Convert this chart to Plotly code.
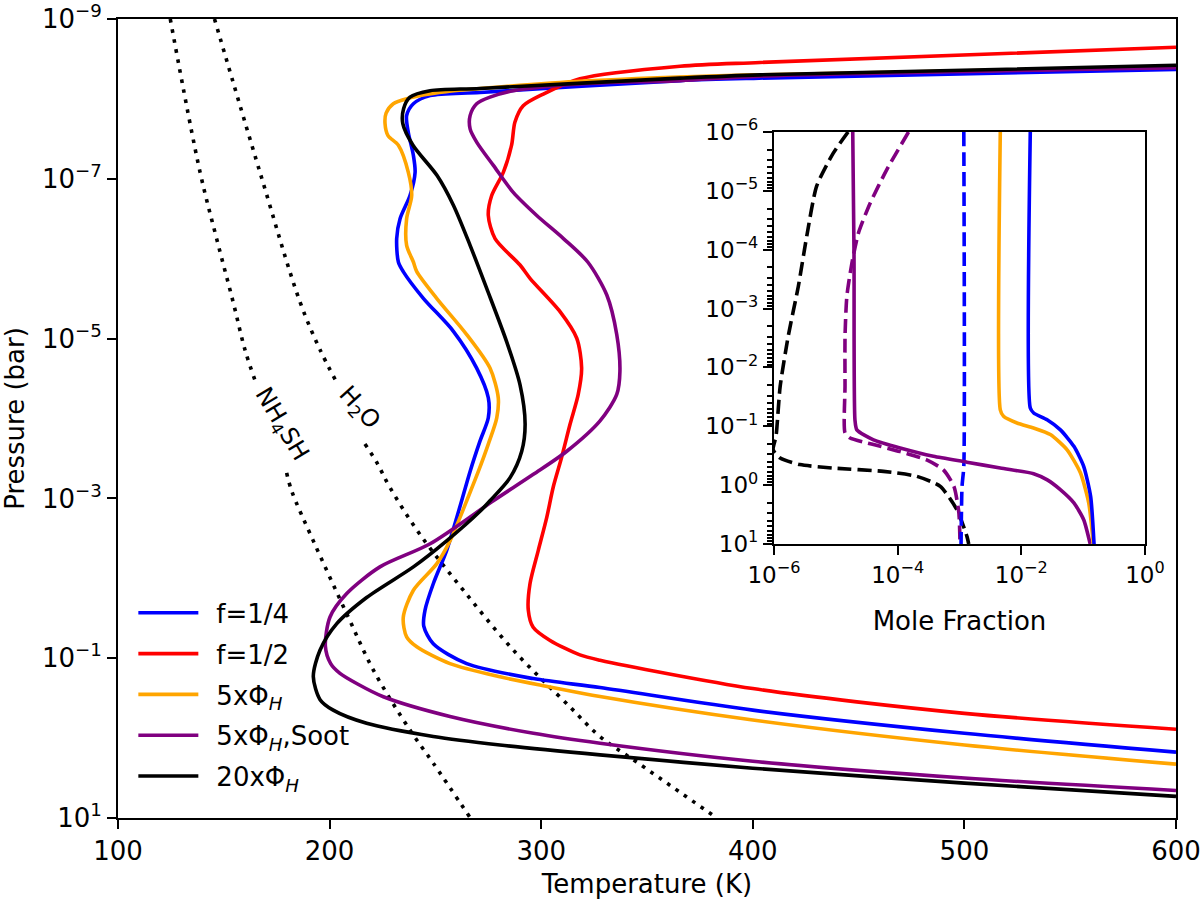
import plotly.graph_objects as go

# ---------------- main panel: temperature-pressure profiles ----------------
t_f14 = [600, 403, 365.6, 271.1, 247.5, 239.6, 236.4, 237.2, 239.6, 240.4, 238.0, 233.3, 231.7, 232.5, 234.8,
         244.3, 258.5, 269.5, 275.0, 275.0, 271.1, 266.4, 262.4, 260.1, 255.3, 249.0, 245.1, 244.5, 249.0, 264.8,
         296.2, 327.8, 400, 500, 600]
p_f14 = [4.27e-9, 5.5e-9, 5.9e-9, 8.3e-9, 9.1e-9, 1.15e-8, 1.62e-8, 2.63e-8, 5.1e-8, 8.3e-8, 1.62e-7, 3.16e-7,
         5.6e-7, 1.10e-6, 1.45e-6, 3.13e-6, 8.1e-6, 2.34e-5, 5.5e-5, 9.8e-5, 1.91e-4, 4.6e-4, 1.07e-3, 1.74e-3,
         4.5e-3, 1.17e-2, 2.5e-2, 3.98e-2, 6.6e-2, 0.117, 0.18, 0.233, 0.447, 0.871, 1.50]

t_f12 = [600, 403.4, 365.6, 318.3, 301.0, 291.5, 287.6, 286.0, 282.1, 276.6, 275.0, 278.2, 290.0, 294.7, 308.9,
         316.8, 319.1, 317.5, 313.6, 309.6, 305.7, 302.6, 298.6, 294.7, 293.9, 296.2, 304.2, 318.3, 327.8, 400,
         500, 600]
p_f12 = [2.26e-9, 3.5e-9, 3.9e-9, 5.6e-9, 8.7e-9, 1.22e-8, 1.95e-8, 3.8e-8, 8.3e-8, 1.62e-7, 2.88e-7, 5.6e-7,
         1.20e-6, 1.76e-6, 4.6e-6, 9.9e-6, 2.34e-5, 5.0e-5, 1.19e-4, 3.1e-4, 7.2e-4, 1.74e-3, 4.5e-3, 1.17e-2,
         2.5e-2, 4.1e-2, 6.0e-2, 9.1e-2, 0.106, 0.24, 0.49, 0.776]

t_5x = [600, 400, 320, 280, 255, 244.1, 238.0, 230.1, 226.7, 226.2, 227.6, 232.5, 237.2, 238.8, 236.4, 236.4,
        239.6, 241.2, 250.6, 264.8, 275.8, 279.7, 279.0, 275.0, 270.3, 264.8, 261.6, 256.9, 250.6, 239.6, 234.8,
        236.4, 241.2, 256.9, 280.5, 304.2, 327.8, 400, 500, 600]
p_5x = [3.98e-9, 5.0e-9, 6.0e-9, 7.1e-9, 8.1e-9, 8.9e-9, 9.7e-9, 1.15e-8, 1.51e-8, 2.04e-8, 2.88e-8, 3.8e-8,
        8.3e-8, 1.62e-7, 3.16e-7, 6.8e-7, 1.10e-6, 1.45e-6, 3.13e-6, 8.9e-6, 2.34e-5, 5.5e-5, 9.8e-5, 2.09e-4,
        4.6e-4, 1.07e-3, 1.74e-3, 3.4e-3, 6.6e-3, 1.41e-2, 3.1e-2, 5.4e-2, 7.2e-2, 0.117, 0.171, 0.229, 0.302,
        0.594, 1.22, 2.12]

t_5x_soot = [600, 403.4, 365.6, 318.3, 286.8, 275.8, 269.5, 266.4, 266.4, 269.5, 277.4, 286.8, 297.9, 310.5,
             322.0, 331.0, 335.7, 337.2, 335.7, 327.8, 312.1, 296.3, 277.4, 247.5, 223.8, 208.1, 200.2, 198.0,
             200.5, 204.9, 213.0, 225.4, 256.9, 296.3, 327.8, 400, 500, 600]
p_5x_soot = [4.07e-9, 5.2e-9, 5.9e-9, 6.5e-9, 7.9e-9, 9.5e-9, 1.15e-8, 1.62e-8, 2.37e-8, 3.47e-8, 6.8e-8,
             1.48e-7, 2.88e-7, 5.6e-7, 1.10e-6, 2.85e-6, 8.9e-6, 2.57e-5, 5.0e-5, 1.07e-4, 2.57e-4, 5.0e-4,
             1.07e-3, 3.7e-3, 7.2e-3, 1.55e-2, 3.05e-2, 7.08e-2, 0.117, 0.155, 0.209, 0.304, 0.537, 0.871, 1.16,
             1.95, 3.16, 4.52]

t_20x = [600, 403.4, 365.6, 271.0, 247.5, 238.0, 235.0, 234.6, 239.4, 250.8, 258.5, 266.4, 274.2, 283.7, 290.0,
         292.4, 290.8, 285.3, 275.8, 271.1, 255.3, 239.6, 217.5, 203.4, 195.5, 192.3, 195.5, 201.7, 217.5, 249.0,
         280.5, 327.8, 400, 500, 600]
p_20x = [3.8e-9, 5.0e-9, 5.5e-9, 7.4e-9, 7.9e-9, 9.5e-9, 1.32e-8, 2.04e-8, 3.8e-8, 9.1e-8, 2.14e-7, 6.8e-7,
         2.34e-6, 1.10e-5, 3.8e-5, 1.17e-4, 2.57e-4, 5.5e-4, 1.07e-3, 1.45e-3, 3.4e-3, 7.2e-3, 1.74e-2, 3.7e-2,
         7.9e-2, 0.17, 0.33, 0.447, 0.653, 0.955, 1.22, 1.62, 2.38, 3.66, 5.37]

# condensation curves (gap where the inline label sits)
t_nh4sh = [124.7, 138.8, 146.6, 154.4, 160.0, 164.6, None, 179.7, 182.1, 192.3, 208.1, 220.7, 238.0, 249.0, 266.5]
p_nh4sh = [1e-9, 8.3e-8, 5.6e-7, 3.47e-6, 1.38e-5, 3.24e-5, None, 4.8e-4, 8.1e-4, 3.4e-3, 2.78e-2, 0.141, 0.794,
           2.06, 10]
t_h2o = [145.6, 167.1, 186.0, 195.5, 202.6, None, 216.7, 222.3, 228.5, 242.7, 263.2, 286.8, 313.6, 327.8, 345.9, 383.0]
p_h2o = [1e-9, 8.3e-8, 3.47e-6, 1.38e-5, 3.24e-5, None, 2.09e-4, 3.55e-4, 7.3e-4, 2.82e-3, 1.41e-2, 7.9e-2, 0.407,
         0.955, 2.06, 10]

# ---------------- inset: mole fractions ----------------
x_in_blue = [0.01396, 0.01396, 0.01585, 0.0261, 0.0429, 0.0708, 0.102, 0.132, 0.15]
p_in_blue = [1e-6, 0.049, 0.0594, 0.0776, 0.115, 0.219, 0.479, 1.55, 10]
x_in_orange = [0.00457, 0.00457, 0.00516, 0.00851, 0.0158, 0.0295, 0.055, 0.0902, 0.123, 0.146]
p_in_orange = [1e-6, 0.0525, 0.0676, 0.0879, 0.107, 0.138, 0.251, 0.617, 2.0, 10]
x_in_purple = [1.88e-5, 1.97e-5, 2.04e-5, 2.19e-5, 4.07e-5, 1.10e-4, 3.8e-4, 1.32e-3, 4.57e-3, 0.0158, 0.0263,
               0.0427, 0.0708, 0.102, 0.13]
p_in_purple = [1e-6, 1.15e-4, 0.0776, 0.115, 0.17, 0.234, 0.324, 0.407, 0.513, 0.638, 0.813, 1.19, 2.0, 3.86, 10]
x_in_purple_d = [1.50e-4, 6.68e-5, 3.59e-5, 2.32e-5, 1.82e-5, 1.51e-5, 1.41e-5, 1.41e-5, 1.41e-5, 1.70e-5,
                 4.07e-5, 1.10e-4, 2.95e-4, 5.5e-4, 8.13e-4, 9.77e-4, 1.02e-3]
p_in_purple_d = [1e-6, 4.37e-6, 1.62e-5, 5.25e-5, 1.70e-4, 6.17e-4, 2.95e-3, 0.0209, 0.130, 0.158, 0.204, 0.269,
                 0.372, 0.55, 1.05, 2.95, 10]
x_in_blue_d = [1.175e-3, 1.175e-3, 1.10e-3, 1.06e-3]
p_in_blue_d = [1e-6, 0.479, 1.05, 10]
x_in_black_d = [1.58e-5, 9.1e-6, 4.9e-6, 3.39e-6, 2.48e-6, 1.70e-6, 1.26e-6, 1.08e-6, 0.97e-6, 1.26e-6, 2.63e-6,
                9.1e-6, 5.9e-5, 2.04e-4, 4.9e-4, 9.1e-4, 1.32e-3, 1.41e-3]
p_in_black_d = [1e-6, 2.29e-6, 8.3e-6, 5.9e-5, 4.17e-4, 2.95e-3, 0.0209, 0.148, 0.25, 0.347, 0.447, 0.513, 0.583,
                0.708, 1.05, 2.63, 7.41, 10]

# ticks
main_x_ticks = [100, 200, 300, 400, 500, 600]
main_y_ticks = [1e-9, 1e-7, 1e-5, 1e-3, 1e-1, 1e1]
main_y_text = ["10<sup>\u22129</sup>", "10<sup>\u22127</sup>", "10<sup>\u22125</sup>", "10<sup>\u22123</sup>",
               "10<sup>\u22121</sup>", "10<sup>1</sup>"]
in_x_ticks = [1e-6, 1e-4, 1e-2, 1]
in_x_text = ["10<sup>\u22126</sup>", "10<sup>\u22124</sup>", "10<sup>\u22122</sup>", "10<sup>0</sup>"]
in_y_ticks = [1e-6, 1e-5, 1e-4, 1e-3, 1e-2, 1e-1, 1, 10]
in_y_text = ["10<sup>\u22126</sup>", "10<sup>\u22125</sup>", "10<sup>\u22124</sup>", "10<sup>\u22123</sup>",
             "10<sup>\u22122</sup>", "10<sup>\u22121</sup>", "10<sup>0</sup>", "10<sup>1</sup>"]
in_y_minor = [k * 10.0 ** d for d in range(-6, 1) for k in range(2, 10)]

FONT = "DejaVu Sans"
LW = 3.6
fig = go.Figure()

for t, p in [(t_nh4sh, p_nh4sh), (t_h2o, p_h2o)]:
    fig.add_trace(go.Scatter(x=t, y=p, mode="lines", showlegend=False, hoverinfo="skip",
                             line=dict(color="black", width=3.6, dash="3.6px,6.6px", shape="spline")))

SP = "\u2002"
main_series = [
    (SP + "f=1/4", t_f14, p_f14, "#0000ff"),
    (SP + "f=1/2", t_f12, p_f12, "#ff0000"),
    (SP + "5x\u03a6<sub><i>H</i></sub>", t_5x, p_5x, "#ffa500"),
    (SP + "5x\u03a6<sub><i>H</i></sub>,Soot", t_5x_soot, p_5x_soot, "#800080"),
    (SP + "20x\u03a6<sub><i>H</i></sub>", t_20x, p_20x, "#000000"),
]
for i, (name, t, p, c) in enumerate(main_series):
    fig.add_trace(go.Scatter(x=t, y=p, mode="lines", name=name, legendgroup="g%d" % i,
                             line=dict(color=c, width=LW, shape="spline", smoothing=0.8)))

inset_series = [
    (x_in_black_d, p_in_black_d, "#000000", "14px,6px"),
    (x_in_purple_d, p_in_purple_d, "#800080", "14px,6px"),
    (x_in_blue_d, p_in_blue_d, "#0000ff", "14px,6px"),
    (x_in_purple, p_in_purple, "#800080", "solid"),
    (x_in_orange, p_in_orange, "#ffa500", "solid"),
    (x_in_blue, p_in_blue, "#0000ff", "solid"),
]
for x, p, c, d in inset_series:
    fig.add_trace(go.Scatter(x=x, y=p, mode="lines", showlegend=False, xaxis="x2", yaxis="y2",
                             line=dict(color=c, width=LW, dash=d, shape="spline", smoothing=0.6)))

axis_common = dict(showgrid=False, zeroline=False, showline=True, linecolor="black", linewidth=2,
                   mirror=True, ticks="outside", tickcolor="black", tickwidth=2, automargin=False,
                   ticklabeloverflow="allow")

fig.update_layout(
    width=1200, height=899,
    margin=dict(l=118, r=24, t=19, b=81),
    paper_bgcolor="white", plot_bgcolor="white",
    font=dict(family=FONT, size=26, color="black"),
    xaxis=dict(range=[100, 600], tickvals=main_x_ticks, ticklen=9,
               title=dict(text="Temperature (K)", standoff=12, font=dict(size=26)),
               tickfont=dict(size=26), **axis_common),
    yaxis=dict(type="log", range=[1, -9], tickvals=main_y_ticks, ticktext=main_y_text, ticklen=9,
               title=dict(text="Pressure (bar)", standoff=14, font=dict(size=26)),
               tickfont=dict(size=26), **axis_common),
    xaxis2=dict(domain=[0.620, 0.9707], anchor="y2", type="log", range=[-6, 0], tickvals=in_x_ticks,
                ticktext=in_x_text, ticklen=9, tickfont=dict(size=23),
                title=dict(text="Mole Fraction", standoff=25, font=dict(size=26)), **axis_common),
    yaxis2=dict(domain=[0.3429, 0.8586], anchor="x2", type="log", range=[1, -6], tickvals=in_y_ticks,
                ticktext=in_y_text, ticklen=9, tickfont=dict(size=23),
                minor=dict(tickvals=in_y_minor, ticks="outside", ticklen=5, tickwidth=1.5, tickcolor="black",
                           showgrid=False), **axis_common),
    legend=dict(x=0.0145, y=0.022, xanchor="left", yanchor="bottom", bgcolor="rgba(0,0,0,0)",
                font=dict(size=26), itemwidth=60, tracegroupgap=4),
    annotations=[
        dict(x=177.0, y=-3.925, xref="x", yref="y", text="NH<sub>4</sub>SH", showarrow=False,
             textangle=59, font=dict(size=24)),
        dict(x=213.9, y=-4.125, xref="x", yref="y", text="H<sub>2</sub>O", showarrow=False,
             textangle=48, font=dict(size=24)),
    ],
)

fig.write_html("out.html")
